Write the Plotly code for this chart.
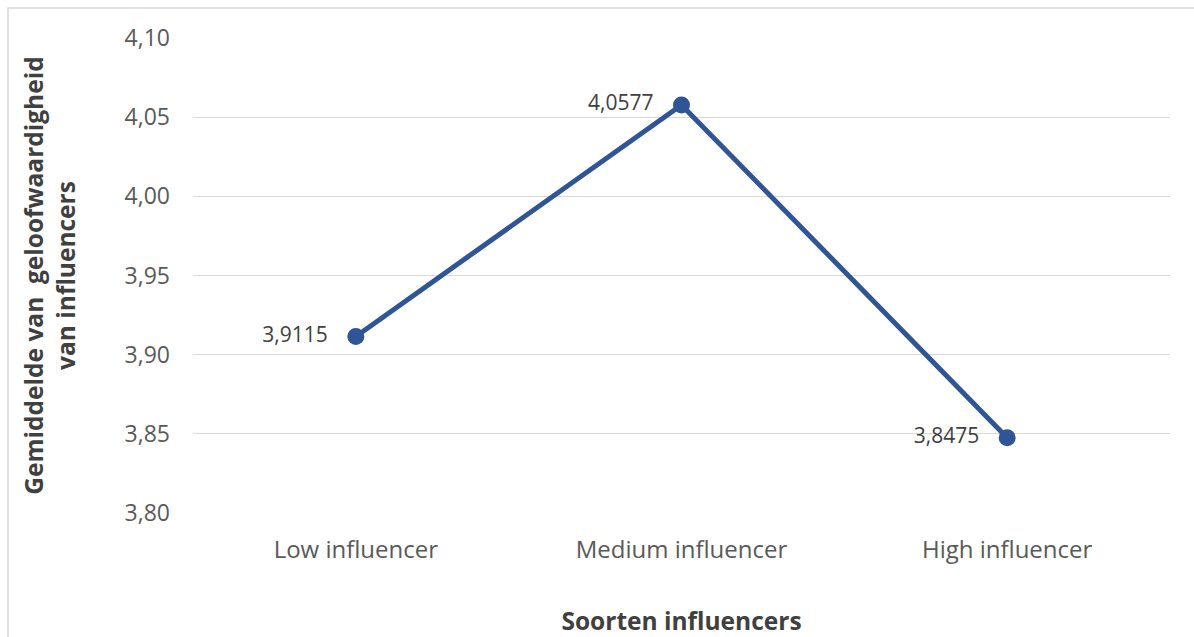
import plotly.graph_objects as go

categories = ["Low influencer", "Medium influencer", "High influencer"]
means = [3.9115, 4.0577, 3.8475]

L, R, T, B = 193, 24, 38, 124
W, H = 1194, 637
pw, ph = W - L - R, H - T - B

def px_x(p):
    return (p - L) / pw

def px_y(p):
    return (H - B - p) / ph

FONT = "Open Sans, Lato, sans-serif"

fig = go.Figure()
fig.add_trace(go.Scatter(
    x=categories,
    y=means,
    mode="lines+markers+text",
    line=dict(color="#2F5597", width=5),
    marker=dict(color="#2F5597", size=17),
    texttemplate="%{y:.4f}   ",
    textposition="middle left",
    textfont=dict(family=FONT, size=21, color="#404040"),
    cliponaxis=False,
    hoverinfo="skip",
))

# outer chart frame
fig.add_shape(
    type="rect", xref="paper", yref="paper",
    x0=px_x(8), x1=px_x(1210), y0=px_y(660), y1=px_y(8),
    line=dict(color="#D9D9D9", width=1.5), fillcolor="rgba(0,0,0,0)",
    layer="below",
)

fig.update_layout(
    width=W, height=H,
    margin=dict(l=L, r=R, t=T, b=B, autoexpand=False),
    paper_bgcolor="white", plot_bgcolor="white",
    separators=",.",
    showlegend=False,
    font=dict(family=FONT, color="#595959"),
    xaxis=dict(
        type="category",
        range=[-0.5, 2.5],
        automargin=False,
        showgrid=False, zeroline=False, showline=False,
        ticks="", ticklabelstandoff=20,
        tickfont=dict(size=24, color="#595959"),
        title=dict(text="<b>Soorten influencers</b>", standoff=48,
                   font=dict(size=24.5, color="#404040")),
    ),
    yaxis=dict(
        range=[3.80, 4.10],
        automargin=False,
        dtick=0.05, tick0=3.80,
        tickformat=".2f",
        showgrid=True, gridcolor="#D9D9D9", gridwidth=1.3,
        zeroline=False, showline=False,
        ticks="", ticklabelstandoff=22,
        tickfont=dict(size=23, color="#595959"),
        title=dict(text="<b>Gemiddelde van  geloofwaardigheid<br>van influencers</b>",
                   standoff=42, font=dict(size=24.5, color="#404040")),
    ),
)

fig.write_html("out.html")
